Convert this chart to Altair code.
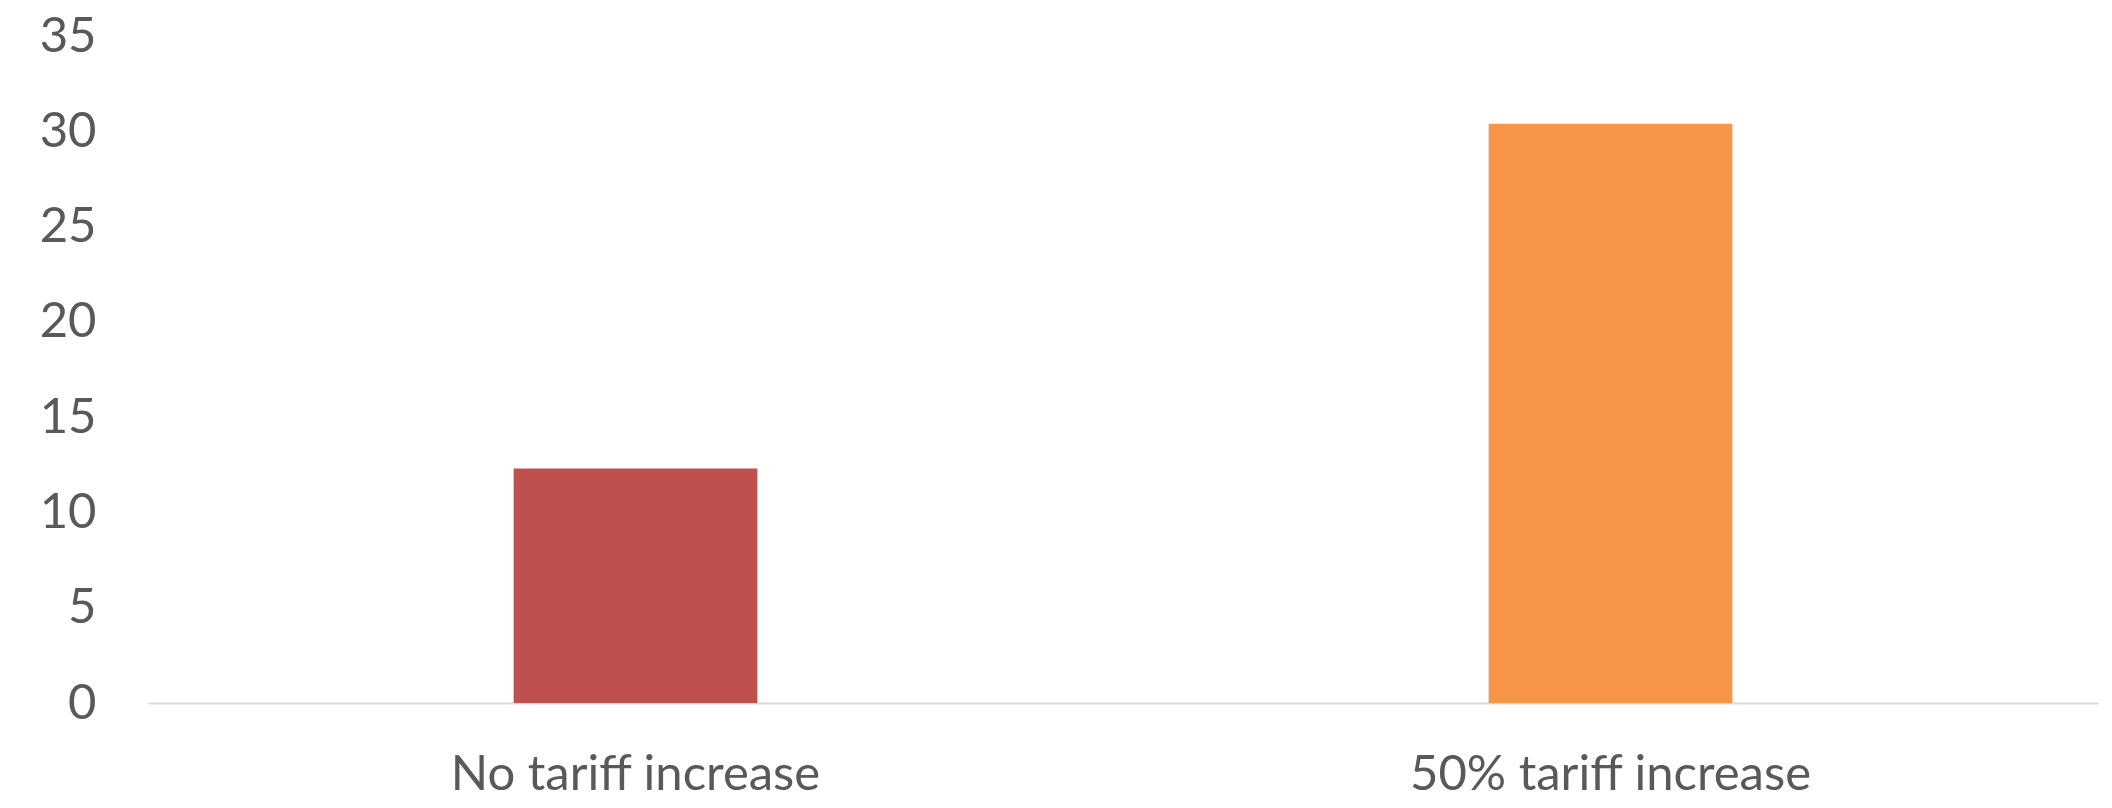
import altair as alt
import pandas as pd

categories = ["No tariff increase", "50% tariff increase"]
values = [12.3, 30.4]
colors = ["#C0504D", "#F79646"]

df = pd.DataFrame({"category": categories, "value": values})

FONT = "Lato"

chart = alt.Chart(df).mark_bar().encode(
    x=alt.X("category:N", sort=categories, title=None,
            scale=alt.Scale(paddingInner=0.75, paddingOuter=0.375),
            axis=alt.Axis(labelAngle=0, ticks=False, tickSize=0, grid=False,
                          domainColor="#D9D9D9", domainWidth=2, labelLimit=0,
                          labelFont=FONT, labelFontSize=49, labelColor="#595959",
                          labelBaseline="alphabetic", labelPadding=86)),
    y=alt.Y("value:Q", title=None,
            scale=alt.Scale(domain=[0, 35], nice=False),
            axis=alt.Axis(values=[0, 5, 10, 15, 20, 25, 30, 35], ticks=False, tickSize=0,
                          grid=False, domain=False, labelFont=FONT, labelFontSize=49,
                          labelColor="#595959", labelPadding=52)),
    color=alt.Color("category:N", sort=categories,
                    scale=alt.Scale(domain=categories, range=colors), legend=None),
).properties(
    width=1950, height=667,
    background="white",
    autosize=alt.AutoSizeParams(type="none"),
    padding={"left": 148, "top": 36, "right": 14, "bottom": 105},
).configure_view(stroke=None)

chart.save("out.html", embed_options={"renderer": "svg", "actions": False})
